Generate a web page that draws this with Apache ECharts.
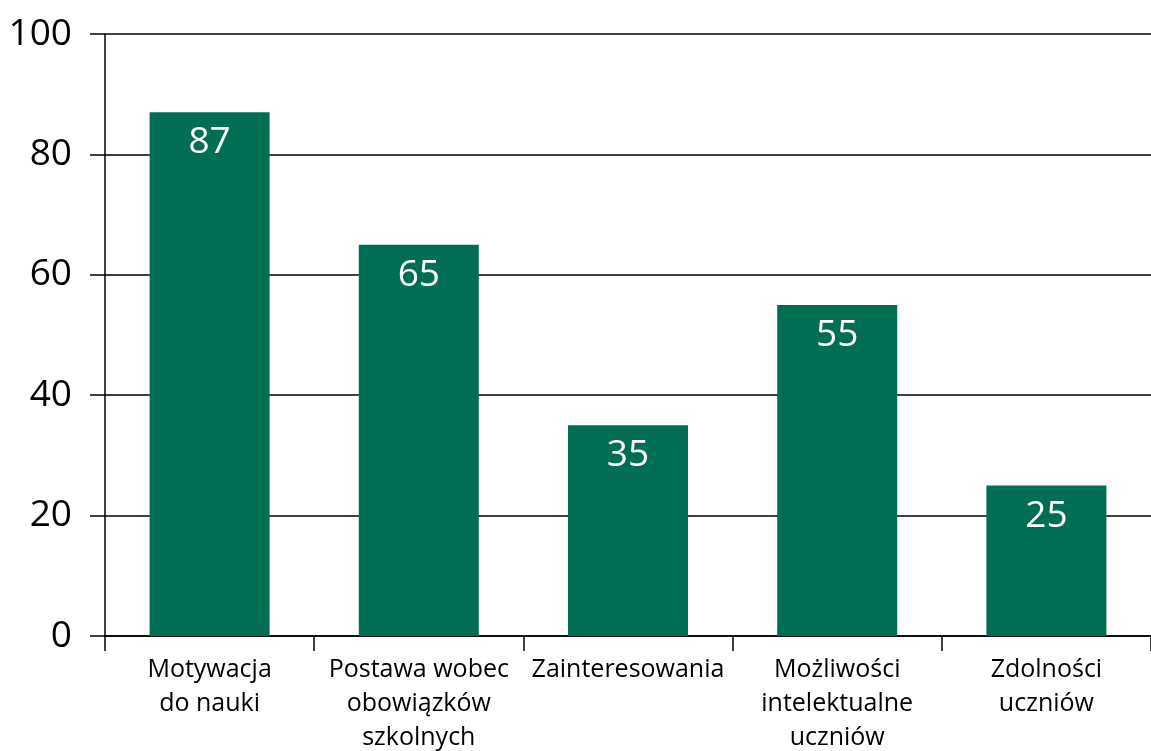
<!DOCTYPE html>
<html>
<head>
<meta charset="utf-8">
<script src="https://cdn.jsdelivr.net/npm/echarts@6/dist/echarts.min.js"></script>
<style>
  html, body { margin: 0; padding: 0; background: #fff; }
  #chart { width: 1151px; height: 751px; }
</style>
</head>
<body>
<div id="chart"></div>
<script>
var categories = ['Motywacja\ndo nauki', 'Postawa wobec\nobowiązków\nszkolnych', 'Zainteresowania', 'Możliwości\nintelektualne\nuczniów', 'Zdolności\nuczniów']
var values = [87, 65, 35, 55, 25]
var yTicks = [0, 20, 40, 60, 80, 100]

var chart = echarts.init(document.getElementById('chart'))
var option = {
    animation: false,
    grid: {
        left: 105,
        right: 0,
        top: 34,
        bottom: 115,
        outerBoundsMode: 'none'
    },
    xAxis: {
        type: 'category',
        data: categories,
        axisLine: {
            lineStyle: { color: '#000', width: 1.5 }
        },
        axisTick: {
            show: true,
            length: 15,
            lineStyle: { color: '#000', width: 1.5 }
        },
        axisLabel: {
            interval: 0,
            margin: 17,
            fontFamily: 'Open Sans',
            fontSize: 25,
            lineHeight: 34,
            color: '#000'
        }
    },
    yAxis: {
        type: 'value',
        min: yTicks[0],
        max: yTicks[yTicks.length - 1],
        interval: 20,
        axisLine: {
            show: true,
            lineStyle: { color: '#000', width: 1.5 }
        },
        axisTick: {
            show: true,
            length: 15,
            lineStyle: { color: '#000', width: 1.5 }
        },
        axisLabel: {
            margin: 33,
            fontFamily: 'Open Sans',
            fontSize: 37,
            color: '#000'
        },
        splitLine: {
            show: true,
            lineStyle: { color: '#000', width: 1.5 }
        }
    },
    series: [{
        type: 'bar',
        data: values,
        barWidth: 120,
        itemStyle: { color: '#006e55' },
        label: {
            show: true,
            position: 'insideTop',
            distance: 12,
            fontFamily: 'Open Sans',
            fontSize: 37,
            color: '#fff'
        }
    }]
}
chart.setOption(option)
</script>
</body>
</html>
